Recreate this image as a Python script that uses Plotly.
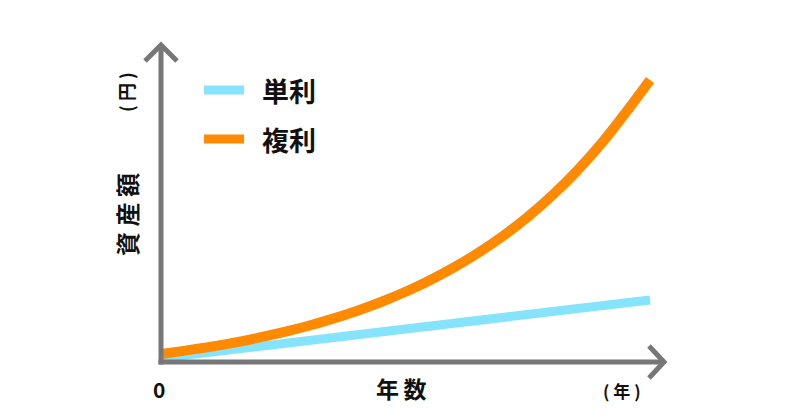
import plotly.graph_objects as go

# ---- data ----
years = list(range(0, 21))
simple_interest = [4, 6.9, 9.8, 12.7, 15.6, 18.5, 21.4, 24.3, 27.2, 30.1, 33,
                   35.9, 38.8, 41.7, 44.6, 47.5, 50.4, 53.3, 56.2, 59.1, 62]
compound_interest = [8, 11.4, 15.1, 19.4, 24.3, 29.8, 36, 43.1, 51, 60, 70.2,
                     81.8, 94.8, 109.6, 126.3, 145.2, 166.6, 190.8, 218.2, 249.2, 282]
series_names = ["単利", "複利"]
colors = ["#85E3FB", "#FF8A00"]
x_label = "年\u2009数"
x_unit = "( 年 )"
y_label = "資 産 額"
y_unit = "( 円 )"
origin_label = "0"

OFF = 8  # browser body margin
W, H = 800 - OFF, 420 - OFF
L, R, T, B = 161, 665, 44, 362  # plot area in page pixels
PX_PER_YEAR = 24.45

def px(x):
    return (x - L) / (R - L)

def py(y):
    return (B - y) / (B - T)

FONT = "Noto Sans CJK JP"
AXC = "#777777"
TXT = "#111111"

fig = go.Figure()
fig.add_trace(go.Scatter(x=years, y=simple_interest, mode="lines", name=series_names[0],
                         line=dict(color=colors[0], width=9), cliponaxis=False, showlegend=False))
fig.add_trace(go.Scatter(x=years, y=compound_interest, mode="lines", name=series_names[1],
                         line=dict(color=colors[1], width=10, shape="spline", smoothing=1.0),
                         cliponaxis=False, showlegend=False))

shapes = []
# axes
shapes.append(dict(type="line", xref="paper", yref="paper", x0=px(L), y0=py(B + 2.5), x1=px(L), y1=py(T + 1),
                   line=dict(color=AXC, width=5)))
shapes.append(dict(type="line", xref="paper", yref="paper", x0=px(L - 2.5), y0=py(B), x1=px(R - 1), y1=py(B),
                   line=dict(color=AXC, width=5)))
# arrow chevrons
shapes.append(dict(type="path", xref="paper", yref="paper",
                   path=f"M {px(L-16)} {py(T+17)} L {px(L)} {py(T+1)} L {px(L+16)} {py(T+17)}",
                   line=dict(color=AXC, width=5)))
shapes.append(dict(type="path", xref="paper", yref="paper",
                   path=f"M {px(R-16)} {py(B-16)} L {px(R-1)} {py(B)} L {px(R-16)} {py(B+16)}",
                   line=dict(color=AXC, width=5)))
# legend swatches
for i, yy in enumerate([90, 139]):
    shapes.append(dict(type="line", xref="paper", yref="paper", x0=px(204), y0=py(yy), x1=px(244), y1=py(yy),
                       line=dict(color=colors[i], width=9)))

annotations = []
def ann(text, x, y, size, angle=0):
    annotations.append(dict(text=text, x=px(x), y=py(y), xref="paper", yref="paper",
                            showarrow=False, xanchor="center", yanchor="middle", textangle=angle,
                            font=dict(family=FONT, size=size, color=TXT, weight=700)))

ann(series_names[0], 289, 90, 27)
ann(series_names[1], 289, 139, 27)
ann(origin_label, 159, 389, 21)
ann(x_label, 401, 388, 23)
ann(x_unit, 622, 390, 17)
ann(y_label, 126, 215, 24, -90)
ann(y_unit, 126, 92, 18, -90)

fig.update_layout(
    width=W, height=H,
    margin=dict(l=L - OFF, r=800 - R, t=T - OFF, b=420 - B, pad=0),
    paper_bgcolor="white", plot_bgcolor="white",
    xaxis=dict(visible=False, range=[0, (R - L) / PX_PER_YEAR], fixedrange=True),
    yaxis=dict(visible=False, range=[0, B - T], fixedrange=True),
    shapes=shapes, annotations=annotations,
    showlegend=False,
)

fig.write_html("out.html", config={"displayModeBar": False})
